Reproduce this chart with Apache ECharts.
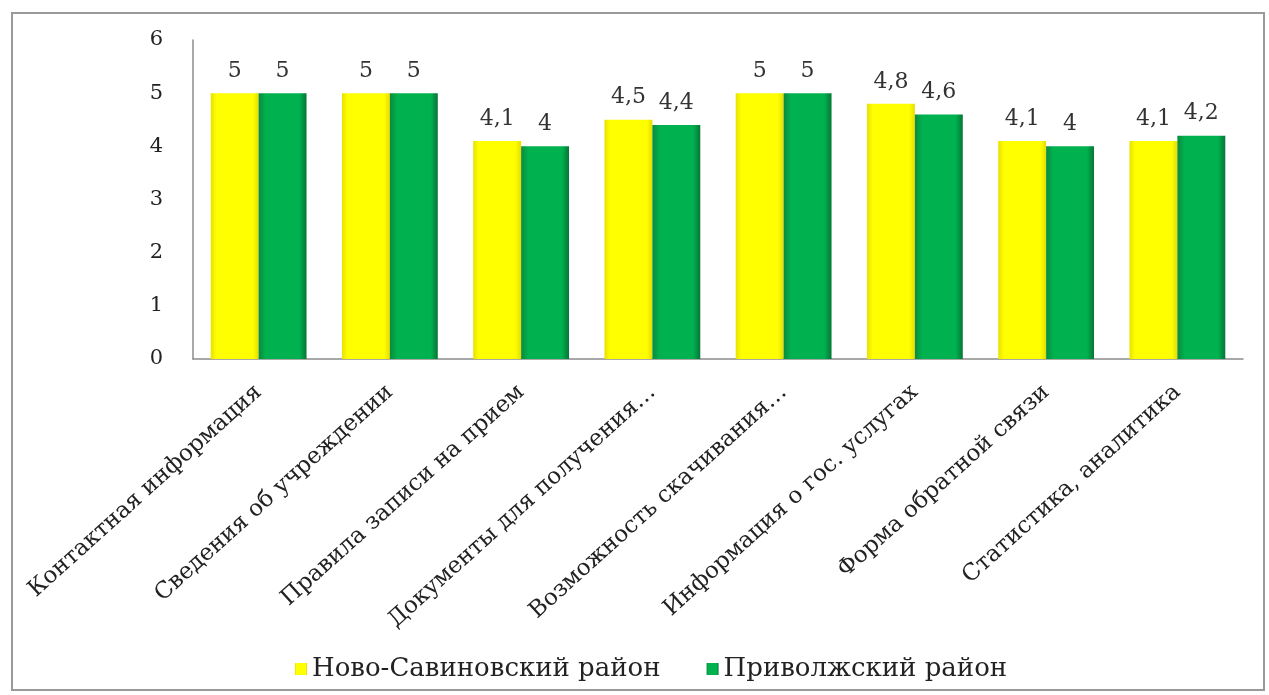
<!DOCTYPE html>
<html>
<head>
<meta charset="utf-8">
<script src="https://cdn.jsdelivr.net/npm/echarts@6/dist/echarts.min.js"></script>
<style>
html,body{margin:0;padding:0;background:#fff;}
#chart{width:1269px;height:695px;}
</style>
</head>
<body>
<div id="chart"></div>
<script>
const categories = [
  'Контактная информация',
  'Сведения об учреждении',
  'Правила записи на прием',
  'Документы для получения…',
  'Возможность скачивания…',
  'Информация о гос. услугах',
  'Форма обратной связи',
  'Статистика, аналитика'
];
const seriesNames = ['Ново-Савиновский район', 'Приволжский район'];
const novoSavinovsky = [5, 5, 4.1, 4.5, 5, 4.8, 4.1, 4.1];
const privolzhsky = [5, 5, 4, 4.4, 5, 4.6, 4, 4.2];
const yTicks = [0, 1, 2, 3, 4, 5, 6];

const FONT = '"DejaVu Serif", "Liberation Serif", serif';
const chart = echarts.init(document.getElementById('chart'));

const labelCfg = {
  show: true,
  position: 'top',
  distance: 11,
  fontFamily: FONT,
  fontSize: 22,
  color: '#333',
  formatter: p => String(p.value).replace('.', ',')
};

chart.setOption({
  backgroundColor: '#fff',
  animation: false,
  graphic: [{
    type: 'rect',
    shape: {x: 12, y: 13, width: 1252, height: 677},
    style: {fill: 'none', stroke: '#9a9a9a', lineWidth: 2},
    silent: true
  }],
  grid: {left: 193, right: 26, top: 40, bottom: 336},
  legend: {
    left: 290, top: 651,
    itemWidth: 12, itemHeight: 12, itemGap: 46,
    icon: 'rect',
    textStyle: {fontFamily: FONT, fontSize: 26, color: '#222'},
    data: seriesNames
  },
  xAxis: {
    type: 'category',
    data: categories,
    axisLine: {lineStyle: {color: '#8c8c8c', width: 1.5}},
    axisTick: {show: false},
    axisLabel: {
      interval: 0, rotate: 42, margin: 30,
      fontFamily: FONT, fontSize: 23, color: '#222'
    }
  },
  yAxis: {
    type: 'value', min: 0, max: 6, interval: 1,
    axisLine: {show: true, lineStyle: {color: '#8c8c8c', width: 1.5}},
    axisTick: {show: false},
    splitLine: {show: false},
    axisLabel: {
      margin: 30, fontFamily: FONT, fontSize: 21, color: '#222',
      formatter: v => yTicks.includes(v) ? String(v) : ''
    }
  },
  series: [
    {
      name: seriesNames[0], type: 'bar', data: novoSavinovsky,
      barGap: '0%', barCategoryGap: '27%',
      itemStyle: {color: new echarts.graphic.LinearGradient(0, 0, 1, 0, [
        {offset: 0, color: '#e9e000'}, {offset: 0.12, color: '#ffff00'},
        {offset: 0.88, color: '#ffff00'}, {offset: 1, color: '#e4dc00'}
      ])},
      label: labelCfg
    },
    {
      name: seriesNames[1], type: 'bar', data: privolzhsky,
      barGap: '0%', barCategoryGap: '27%',
      itemStyle: {color: new echarts.graphic.LinearGradient(0, 0, 1, 0, [
        {offset: 0, color: '#0b8a3c'}, {offset: 0.15, color: '#00b14f'},
        {offset: 0.85, color: '#00b14f'}, {offset: 1, color: '#067536'}
      ])},
      label: labelCfg
    }
  ]
});
</script>
</body>
</html>
